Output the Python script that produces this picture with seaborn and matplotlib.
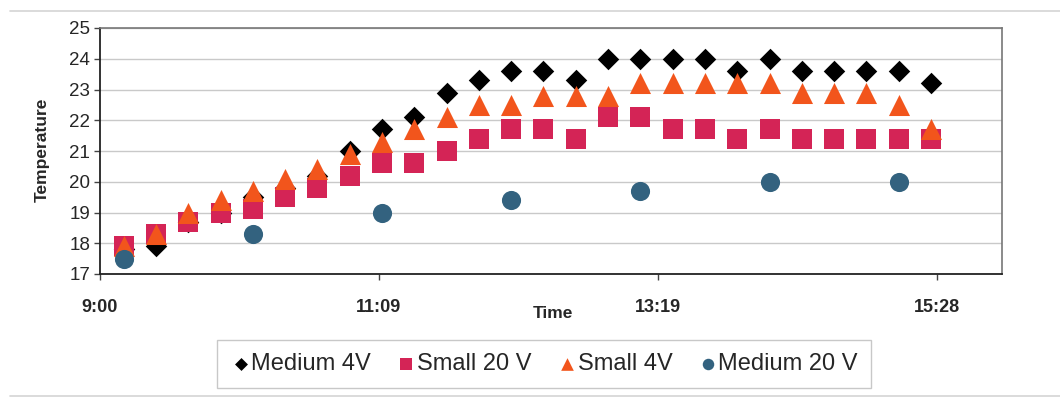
import matplotlib
matplotlib.use("Agg")
import matplotlib.pyplot as plt
import seaborn as sns
import pandas as pd
from matplotlib.lines import Line2D

# ---- data ----
times = ["9:11", "9:26", "9:41", "9:56", "10:11", "10:26", "10:41", "10:56",
         "11:11", "11:26", "11:41", "11:56", "12:11", "12:26", "12:41", "12:56",
         "13:11", "13:26", "13:41", "13:56", "14:11", "14:26", "14:41", "14:56",
         "15:11", "15:26"]
medium_4v = [17.8, 17.9, 18.7, 19.0, 19.5, 19.8, 20.2, 21.0,
             21.7, 22.1, 22.9, 23.3, 23.6, 23.6, 23.3, 24.0,
             24.0, 24.0, 24.0, 23.6, 24.0, 23.6, 23.6, 23.6,
             23.6, 23.2]
small_20v = [17.9, 18.3, 18.7, 19.0, 19.1, 19.5, 19.8, 20.2,
             20.6, 20.6, 21.0, 21.4, 21.7, 21.7, 21.4, 22.1,
             22.1, 21.7, 21.7, 21.4, 21.7, 21.4, 21.4, 21.4,
             21.4, 21.4]
small_4v = [17.9, 18.3, 19.0, 19.4, 19.7, 20.1, 20.4, 20.9,
            21.3, 21.7, 22.1, 22.5, 22.5, 22.8, 22.8, 22.8,
            23.2, 23.2, 23.2, 23.2, 23.2, 22.9, 22.9, 22.9,
            22.5, 21.7]
medium_20v_times = ["9:11", "10:11", "11:11", "12:11", "13:11", "14:11", "15:11"]
medium_20v = [17.5, 18.3, 19.0, 19.4, 19.7, 20.0, 20.0]

tick_labels = ["9:00", "11:09", "13:19", "15:28"]
y_ticks = [17, 18, 19, 20, 21, 22, 23, 24, 25]


def to_min(t):
    h, m = t.split(":")
    return (int(h) - 9) * 60 + int(m)


series = [
    ("Medium 4V", times, medium_4v, "D", "#000000", 120),
    ("Small 20 V", times, small_20v, "s", "#d42456", 190),
    ("Small 4V", times, small_4v, "^", "#f2551c", 230),
    ("Medium 20 V", medium_20v_times, medium_20v, "o", "#33627f", 190),
]

sns.set_theme(style="white")
plt.rcParams["font.family"] = ["Liberation Sans", "DejaVu Sans"]

fig = plt.figure(figsize=(10.6, 4.04), dpi=100)
ax = fig.add_axes([100 / 1060, 1 - 274 / 404, (1002 - 100) / 1060, (274 - 28) / 404])

for name, ts, vals, mk, col, s in series:
    df = pd.DataFrame({"Time": [to_min(t) for t in ts], "Temperature": vals})
    sns.scatterplot(data=df, x="Time", y="Temperature", marker=mk, color=col,
                    s=s, linewidth=0, ax=ax, label=name, zorder=3)

ax.set_xlim(0, 419)
ax.set_ylim(17, 25)
ax.set_yticks(y_ticks)
ax.set_yticklabels([str(v) for v in y_ticks], fontsize=13.5)
# Excel date axis: major unit 0.09 day = 129.6 min
ax.set_xticks([i * 129.6 for i in range(len(tick_labels))])
ax.set_xticklabels(tick_labels, fontsize=13, fontweight="bold")
ax.tick_params(axis="y", direction="out", length=4, width=1, color="#444444", pad=3, left=True)
ax.tick_params(axis="x", direction="out", length=4, width=1, color="#444444", pad=14, bottom=True)
ax.yaxis.grid(True, color="#c9c9c9", linewidth=1)
ax.xaxis.grid(False)
ax.set_axisbelow(True)
for side in ["left", "bottom"]:
    ax.spines[side].set_color("#222222")
    ax.spines[side].set_linewidth(1.3)
for side in ["top", "right"]:
    ax.spines[side].set_color("#777777")
    ax.spines[side].set_linewidth(1.2)
ax.set_xlabel("")
ax.set_ylabel("")

fig.text(42 / 1060, 1 - 150 / 404, "Temperature", rotation=90, ha="center", va="center",
         fontsize=12.5, fontweight="bold")
fig.text(553 / 1060, 1 - 313 / 404, "Time", ha="center", va="center",
         fontsize=12.5, fontweight="bold")

if ax.legend_:
    ax.legend_.remove()
handles, labels = ax.get_legend_handles_labels()
leg = fig.legend(handles, labels, loc="center", bbox_to_anchor=(544 / 1060, 1 - 364 / 404),
                 ncol=4, frameon=True, fancybox=False, fontsize=17,
                 handletextpad=0.0, columnspacing=1.05, handlelength=0.9,
                 borderpad=0.55, markerscale=0.6)
leg.get_frame().set_edgecolor("#bbbbbb")
leg.get_frame().set_linewidth(1)

# faint chart-area frame lines
fig.add_artist(Line2D([10 / 1060, 1], [1 - 11 / 404, 1 - 11 / 404], color="#d4d4d4", lw=1.2))
fig.add_artist(Line2D([10 / 1060, 1], [1 - 396 / 404, 1 - 396 / 404], color="#d4d4d4", lw=1.2))

fig.savefig("out.png", dpi=100)
